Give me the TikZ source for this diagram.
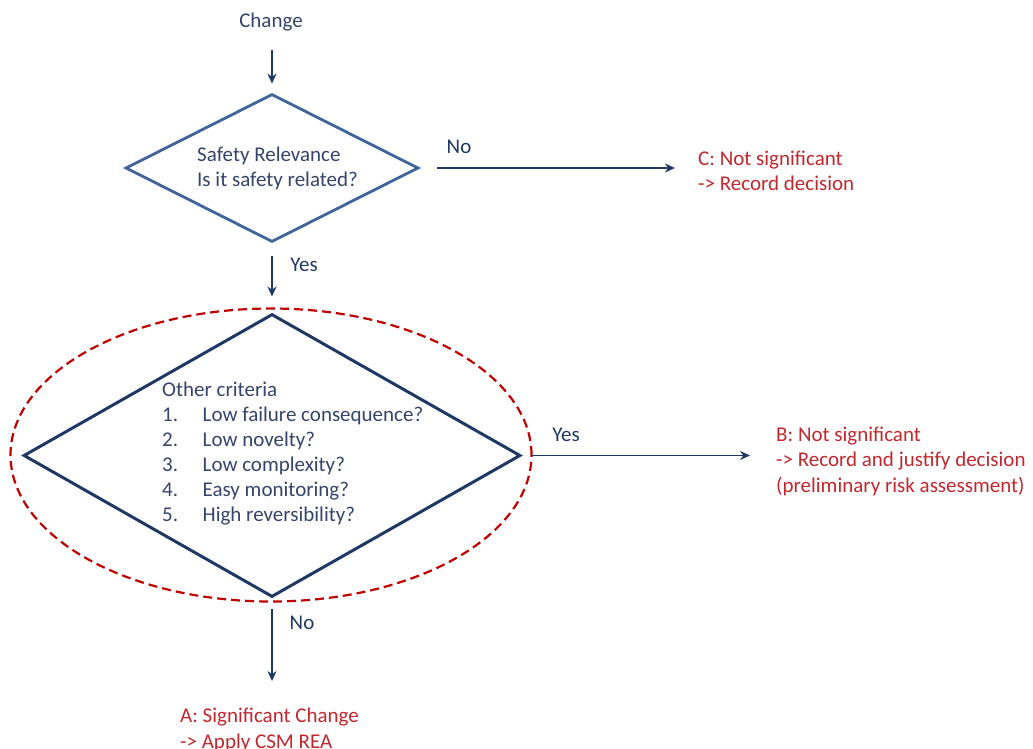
\documentclass[tikz,border=0pt]{standalone}
\usepackage{fontspec}
\setmainfont{Carlito}
\usetikzlibrary{shapes.geometric,arrows.meta}
\definecolor{txtblue}{HTML}{35446A}
\definecolor{navy}{HTML}{1F3864}
\definecolor{steel}{HTML}{41649A}
\definecolor{outred}{HTML}{C0282D}
\definecolor{dashred}{HTML}{C00000}
\tikzset{
  txt/.style={inner sep=0pt, font=\fontsize{21}{25}\selectfont, text=txtblue, align=left},
  lbl/.style={inner sep=0pt, font=\fontsize{21}{25}\selectfont, text=navy},
  outcome/.style={inner sep=0pt, font=\fontsize{21}{25.5}\selectfont, text=outred, align=left, anchor=west},
  diaone/.style={diamond, draw=steel, line width=2.8pt, inner sep=0pt, minimum width=293pt, minimum height=148pt},
  diatwo/.style={diamond, draw=navy, line width=3pt, inner sep=0pt, minimum width=497pt, minimum height=283pt},
  ring/.style={ellipse, draw=dashred, dash pattern=on 9pt off 5pt, line width=2.2pt, inner sep=0pt, minimum width=521pt, minimum height=293pt},
  arr/.style={draw=navy, line width=1.8pt, -{Stealth[length=10pt,width=9pt]}}
}
\begin{document}
\begin{tikzpicture}[x=1pt,y=-1pt]
\useasboundingbox (0,0) rectangle (1033,749);
% nodes
\node[txt] (change) at (271,22) {Change};
\node[diaone] (d1) at (272,168) {};
\node[txt, anchor=west, font=\fontsize{21}{25.3}\selectfont] (t1) at (197,168.5) {Safety Relevance\\Is it safety related?};
\node[diatwo] (d2) at (272,455.5) {};
\node[ring] (ring) at (271,455) {};
\node[txt, anchor=west] (t2) at (162,454) {Other criteria\\
\makebox[40.5pt][l]{1.}Low failure consequence?\\
\makebox[40.5pt][l]{2.}Low novelty?\\
\makebox[40.5pt][l]{3.}Low complexity?\\
\makebox[40.5pt][l]{4.}Easy monitoring?\\
\makebox[40.5pt][l]{5.}High reversibility?};
\node[outcome] (C) at (698,171) {C: Not significant\\-> Record decision};
\node[outcome] (B) at (776,461) {B: Not significant\\-> Record and justify decision\\(preliminary risk assessment)};
\node[outcome] (A) at (180,730) {A: Significant Change\\-> Apply CSM REA};
% connectors
\draw[arr, shorten <=19pt, shorten >=9pt] (change.south -| d1.north) -- (d1.north);
\draw[arr, shorten <=17pt, shorten >=23pt] (d1.east) -- (d1.east -| C.west);
\draw[arr, shorten <=13pt, shorten >=16pt] (d1.south) -- (d2.north);
\draw[arr, shorten <=9pt, shorten >=26pt] (d2.east) -- (d2.east -| B.west);
\draw[arr, shorten <=10pt, shorten >=27pt] (d2.south) -- (d2.south |- A.north);
% labels
\node[lbl] (no1) at (459,147) {No};
\node[lbl] (yes1) at (304,265) {Yes};
\node[lbl] (yes2) at (566,435) {Yes};
\node[lbl] (no2) at (302,623) {No};
\end{tikzpicture}
\end{document}
